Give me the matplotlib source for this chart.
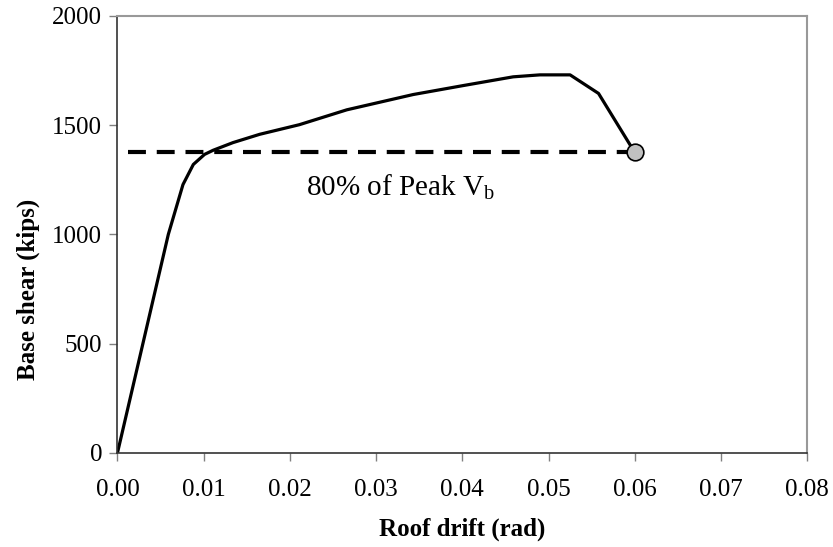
import numpy as np
import matplotlib
matplotlib.use("Agg")
import matplotlib.pyplot as plt

plt.rcParams['font.family'] = ['Liberation Serif', 'DejaVu Serif']
plt.rcParams['mathtext.fontset'] = 'custom'
plt.rcParams['mathtext.rm'] = 'Liberation Serif'

# pushover curve (roof drift in rad, base shear in kips)
drift = [0.0, 0.0059, 0.0076, 0.0088, 0.0101, 0.0111, 0.0134, 0.0165,
         0.0211, 0.0266, 0.0343, 0.0401, 0.0459, 0.049, 0.0525, 0.0558, 0.060]
shear = [0, 1000, 1228, 1320, 1366, 1385, 1420, 1458,
         1502, 1570, 1640, 1681, 1721, 1730, 1730, 1645, 1375]

level_start = 0.00125
level_end = 0.060
level_shear = 1375

fig = plt.figure(figsize=(8.33, 5.47), dpi=100)
ax = fig.add_axes([0.141, 0.172, 0.828, 0.799])

ax.plot([level_start, level_end], [level_shear, level_shear], color='black',
        lw=3, dashes=(4.3, 2.6), solid_capstyle='butt', dash_capstyle='butt')
ax.plot(drift, shear, color='black', lw=2.3, solid_joinstyle='round')
ax.plot(drift[-1], shear[-1], 'o', ms=12, mfc='#c0c0c0', mec='black', mew=1.2)

ax.text(0.0328, 1217, r'80% of Peak V$_{\mathrm{b}}$', fontsize=21,
        ha='center', va='center')

ax.set_xlim(0, 0.08)
ax.set_ylim(0, 2000)
ax.set_xticks(np.arange(0, 0.081, 0.01))
ax.set_xticklabels(['%.2f' % v for v in np.arange(0, 0.081, 0.01)])
ax.set_yticks([0, 500, 1000, 1500, 2000])

ax.tick_params(axis='both', labelsize=18, length=6, width=1, color='#808080',
               direction='out')
ax.tick_params(axis='x', pad=13)
ax.tick_params(axis='y', pad=5)
ax.set_xlabel('Roof drift (rad)', fontsize=18, fontweight='bold')
ax.set_ylabel('Base shear (kips)', fontsize=18, fontweight='bold')
ax.xaxis.set_label_coords(0.5, -0.148)
ax.yaxis.set_label_coords(-0.112, 0.375)

for s in ['top', 'right']:
    ax.spines[s].set_color('#999999')
    ax.spines[s].set_linewidth(1.5)
for s in ['left', 'bottom']:
    ax.spines[s].set_color('#333333')
    ax.spines[s].set_linewidth(1.2)

fig.savefig('out.png', dpi=100)
